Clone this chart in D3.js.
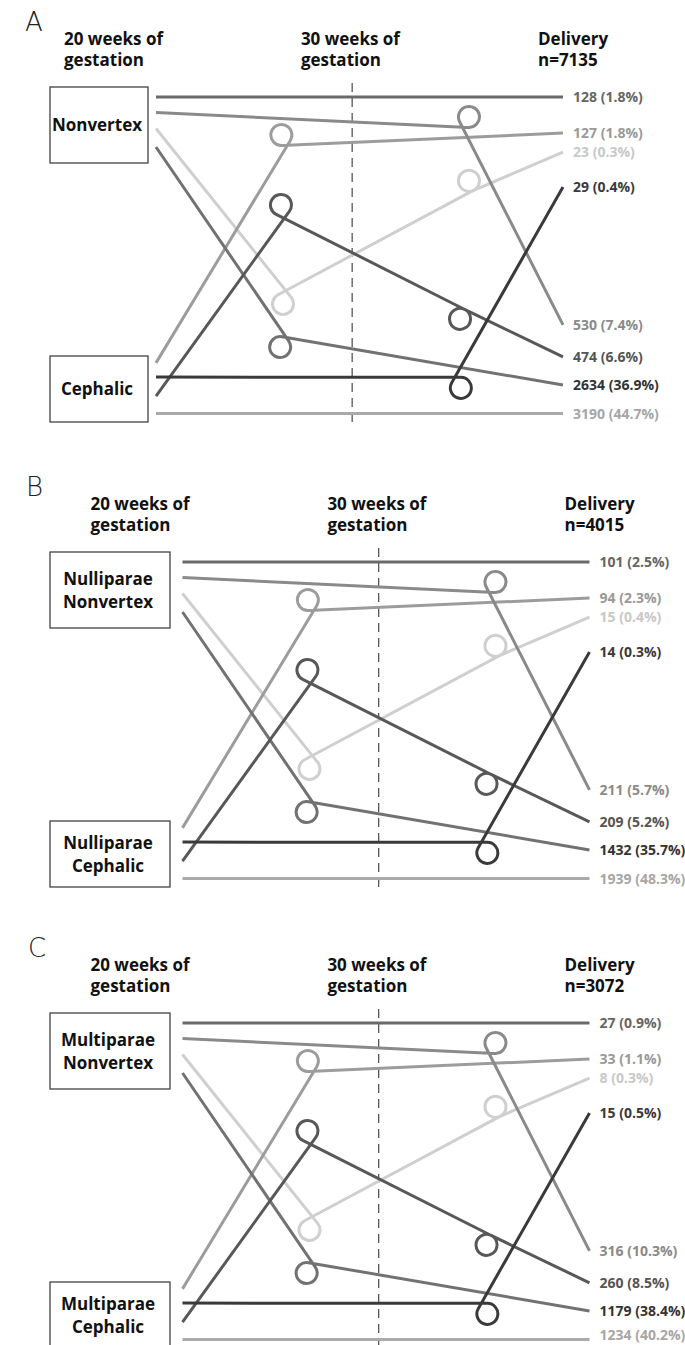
<!DOCTYPE html>
<html>
<head>
<meta charset="utf-8">
<script src="https://cdn.jsdelivr.net/npm/d3@7"></script>
<style>
  body { margin: 0; background: #fff; }
  svg { display: block; }
  text { font-family: "Open Sans", sans-serif; font-weight: 700; }
  .letter { font-family: "DejaVu Sans", sans-serif; font-weight: 200; font-size: 26px; fill: #222; }
</style>
</head>
<body>
<svg id="chart" width="685" height="1345"></svg>
<script>
// presentation at 20 weeks -> 30 weeks -> delivery
const pathways = ["NV-NV-NV", "NV-NV-C", "NV-C-NV", "NV-C-C", "C-NV-NV", "C-NV-C", "C-C-NV", "C-C-C"]

const panelLetters = ["A", "B", "C"]
const totals = [7135, 4015, 3072]
const stageHeaders = [["20 weeks of", "gestation"], ["30 weeks of", "gestation"], ["Delivery", "n="]]
const topBoxLabels = [["Nonvertex"], ["Nulliparae", "Nonvertex"], ["Multiparae", "Nonvertex"]]
const bottomBoxLabels = [["Cephalic"], ["Nulliparae", "Cephalic"], ["Multiparae", "Cephalic"]]

// counts at delivery, same order as pathways
const countsA = [128, 530, 23, 2634, 127, 474, 29, 3190]
const pctA = [1.8, 7.4, 0.3, 36.9, 1.8, 6.6, 0.4, 44.7]
const countsB = [101, 211, 15, 1432, 94, 209, 14, 1939]
const pctB = [2.5, 5.7, 0.4, 35.7, 2.3, 5.2, 0.3, 48.3]
const countsC = [27, 316, 8, 1179, 33, 260, 15, 1234]
const pctC = [0.9, 10.3, 0.3, 38.4, 1.1, 8.5, 0.5, 40.2]

const counts = [countsA, countsB, countsC]
const pcts = [pctA, pctB, pctC]

// ---- layout (track fractions, 0 = 20 weeks column, 1 = delivery column)
const startRow = [0, 0.049, 0.0995, 0.158, 0.840, 0.945, 0.885, 1]
const endRow = [0, 0.720, 0.174, 0.910, 0.114, 0.821, 0.284, 1]
// a loop marks a change of presentation: [track x, track y, turn direction]
const loops = [
    [],
    [[0.769, 0.063, -1]],
    [[0.312, 0.654, 1], [0.769, 0.265, -1]],
    [[0.305, 0.790, 1]],
    [[0.308, 0.120, -1]],
    [[0.307, 0.341, -1], [0.747, 0.701, 1]],
    [[0.749, 0.919, 1]],
    []
]
const lineColors = ["#6a6a6a", "#8a8a8a", "#cfcfcf", "#727272", "#9c9c9c", "#585858", "#3a3a3a", "#aaaaaa"]
const labelColors = ["#666", "#8a8a8a", "#c8c8c8", "#333", "#999", "#555", "#3a3a3a", "#a6a6a6"]
// lighter lines underneath
const drawOrder = [2, 7, 4, 1, 3, 0, 5, 6]

const panels = [
    {dx: 0, dy: 0, boxW: 98, letterX: 25},
    {dx: 26.5, dy: 465, boxW: 120, letterX: 26},
    {dx: 26.5, dy: 926, boxW: 120, letterX: 28}
]
const H = 1345
const loopR = 10.5
const fmt = d3.format(".1f")

const svg = d3.select("#chart")

// angle on a circle where a straight line coming from p touches it
function tangentIn(p, c){
    let a = Math.atan2(p[1] - c.y, p[0] - c.x)
    let d = Math.hypot(p[0] - c.x, p[1] - c.y)
    return a + c.s * Math.acos(c.r / d)
}

// angle on a circle where a straight line leaves it toward p
function tangentOut(c, p){
    let a = Math.atan2(p[1] - c.y, p[0] - c.x)
    let d = Math.hypot(p[0] - c.x, p[1] - c.y)
    return a - c.s * Math.acos(c.r / d)
}

function onCircle(c, a){
    return [c.x + c.r * Math.cos(a), c.y + c.r * Math.sin(a)]
}

function loopPath(start, end, circles){
    let n = circles.length
    let entry = circles.map(c => [c.x, c.y])
    let exit = circles.map(c => [c.x, c.y])
    // circle to circle tangents need a few passes to settle
    for(let it = 0; it < 30; it++){
        circles.forEach((c, i) => {
            let prev = i === 0 ? start : exit[i - 1]
            let next = i === n - 1 ? end : entry[i + 1]
            c.a0 = tangentIn(prev, c)
            c.a1 = tangentOut(c, next)
            entry[i] = onCircle(c, c.a0)
            exit[i] = onCircle(c, c.a1)
        })
    }
    let p = d3.path()
    p.moveTo(start[0], start[1])
    circles.forEach(c => p.arc(c.x, c.y, c.r, c.a0, c.a1, c.s < 0))
    p.lineTo(end[0], end[1])
    return p.toString()
}

panels.forEach((cfg, pi) => {
    let g = svg.append("g")

    let x = d3.scaleLinear().domain([0, 1]).range([156 + cfg.dx, 563 + cfg.dx])
    let y = d3.scaleLinear().domain([0, 1]).range([97 + cfg.dy, 413.5 + cfg.dy])

    // panel letter
    g.append("text").attr("class", "letter")
        .attr("x", cfg.letterX).attr("y", 31 + cfg.dy)
        .text(panelLetters[pi])

    // stage headers
    let headerX = [-0.226, 0.356, 0.9386]
    stageHeaders.forEach((lines, i) => {
        let t = g.append("text")
            .attr("x", x(headerX[i])).attr("y", 45 + cfg.dy)
            .attr("font-size", 17).attr("fill", "#111")
        lines.forEach((s, j) => {
            t.append("tspan")
                .attr("x", x(headerX[i]))
                .attr("dy", j === 0 ? 0 : 21)
                .text(i === 2 && j === 1 ? s + totals[pi] : s)
        })
    })

    // 30 weeks marker
    g.append("line")
        .attr("x1", x(0.482)).attr("x2", x(0.482))
        .attr("y1", 83 + cfg.dy).attr("y2", 425 + cfg.dy)
        .attr("stroke", "#555").attr("stroke-width", 1.3)
        .attr("stroke-dasharray", "9,6")

    // boxes
    let boxes = [
        {y: 87, h: 76, lines: topBoxLabels[pi]},
        {y: 356, h: 66, lines: bottomBoxLabels[pi]}
    ]
    boxes.forEach(b => {
        g.append("rect")
            .attr("x", 50).attr("y", b.y + cfg.dy)
            .attr("width", cfg.boxW).attr("height", b.h)
            .attr("fill", "#fff").attr("stroke", "#333").attr("stroke-width", 1.2)
        let cy = b.y + cfg.dy + b.h / 2
        b.lines.forEach((s, j) => {
            g.append("text")
                .attr("x", 50 + cfg.boxW / 2 - 2)
                .attr("y", cy + 6 + (j - (b.lines.length - 1) / 2) * 23)
                .attr("text-anchor", "middle")
                .attr("font-size", 17).attr("fill", "#111")
                .text(s)
        })
    })

    // pathways
    drawOrder.forEach(k => {
        let circles = loops[k].map(l => ({x: x(l[0]), y: y(l[1]), r: loopR, s: l[2]}))
        g.append("path")
            .attr("d", loopPath([x(0), y(startRow[k])], [x(1), y(endRow[k])], circles))
            .attr("fill", "none")
            .attr("stroke", lineColors[k])
            .attr("stroke-width", 3)
    })

    // delivery labels (the last one sits on the page edge, keep it inside)
    pathways.forEach((p, k) => {
        g.append("text")
            .attr("x", x(1) + 10).attr("y", Math.min(y(endRow[k]), H - 10))
            .attr("dy", "0.36em")
            .attr("font-size", 14)
            .attr("fill", labelColors[k])
            .text(`${counts[pi][k]} (${fmt(pcts[pi][k])}%)`)
    })
})
</script>
</body>
</html>
